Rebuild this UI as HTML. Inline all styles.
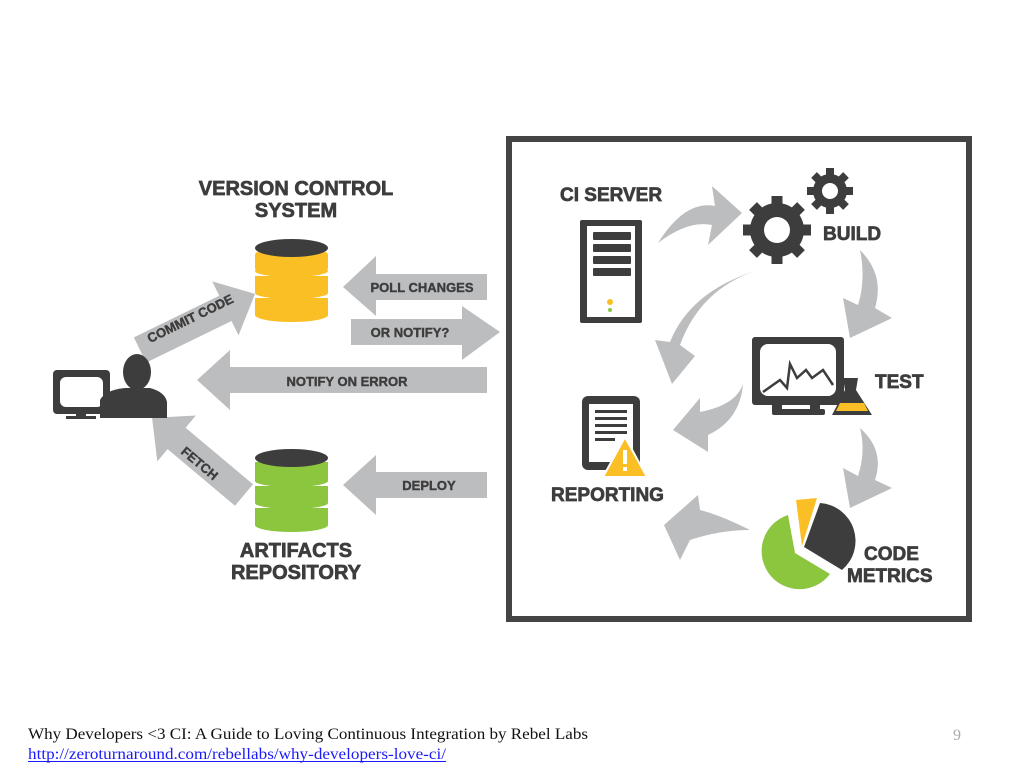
<!DOCTYPE html>
<html><head><meta charset="utf-8"><style>
html,body{margin:0;padding:0;background:#fff;width:1024px;height:768px;overflow:hidden}
svg{display:block}
.t{font-family:"Liberation Sans",sans-serif;font-weight:bold;fill:#3d3d3d;stroke:#3d3d3d;stroke-width:0.7}
.s{font-family:"Liberation Sans",sans-serif;font-weight:bold;fill:#3d3d3d;font-size:13px;stroke:#3d3d3d;stroke-width:0.4}
</style></head><body>
<svg width="1024" height="768" viewBox="0 0 1024 768">
<rect x="509" y="139" width="460" height="480" fill="#fff" stroke="#444" stroke-width="6"/>

<text class="t" x="296" y="195" font-size="20" text-anchor="middle">VERSION CONTROL</text>
<text class="t" x="296" y="217" font-size="20" text-anchor="middle">SYSTEM</text>
<text class="t" x="296" y="557" font-size="20" text-anchor="middle">ARTIFACTS</text>
<text class="t" x="296" y="579" font-size="20" text-anchor="middle">REPOSITORY</text>

<g>
<rect x="255" y="252" width="73" height="19" rx="3" fill="#fbbf26"/>
<ellipse cx="291.5" cy="271" rx="36.5" ry="6" fill="#fbbf26"/>
<rect x="255" y="276" width="73" height="17" fill="#fbbf26"/>
<ellipse cx="291.5" cy="293" rx="36.5" ry="6" fill="#fbbf26"/>
<rect x="255" y="298" width="73" height="17" fill="#fbbf26"/>
<ellipse cx="291.5" cy="315" rx="36.5" ry="7" fill="#fbbf26"/>
<ellipse cx="291.5" cy="248" rx="36.5" ry="9" fill="#3d3d3d"/>
</g>
<g>
<rect x="255" y="462" width="73" height="19" fill="#8cc63f"/>
<ellipse cx="291.5" cy="481" rx="36.5" ry="6" fill="#8cc63f"/>
<rect x="255" y="486" width="73" height="17" fill="#8cc63f"/>
<ellipse cx="291.5" cy="503" rx="36.5" ry="6" fill="#8cc63f"/>
<rect x="255" y="508" width="73" height="17" fill="#8cc63f"/>
<ellipse cx="291.5" cy="525" rx="36.5" ry="7" fill="#8cc63f"/>
<ellipse cx="291.5" cy="458" rx="36.5" ry="9" fill="#3d3d3d"/>
</g>

<g fill="#bcbdbf">
<polygon points="487,274 376,274 376,256 343,287 376,316 376,300 487,300"/>
<polygon points="351,319 462,319 462,306 500,332 462,360 462,345 351,345"/>
<polygon points="487,367 230,367 230,350 197,380 230,410 230,393 487,393"/>
<polygon points="487,472 376,472 376,455 343,485 376,515 376,498 487,498"/>
<g transform="translate(140,350) rotate(-26)">
<polygon points="0,-14 95,-14 95,-30 128,0 95,30 95,14 0,14"/>
</g>
<g transform="translate(244,495) rotate(-140)">
<polygon points="0,-14 88,-14 88,-30 120,0 88,30 88,14 0,14"/>
</g>
</g>
<text class="s" x="422" y="292" text-anchor="middle">POLL CHANGES</text>
<text class="s" x="410" y="337" text-anchor="middle">OR NOTIFY?</text>
<text class="s" x="347" y="386" text-anchor="middle">NOTIFY ON ERROR</text>
<text class="s" x="429" y="490" text-anchor="middle">DEPLOY</text>
<text class="s" transform="translate(190,318) rotate(-26)" text-anchor="middle" x="0" y="5">COMMIT CODE</text>
<text class="s" transform="translate(200,463) rotate(40)" text-anchor="middle" x="0" y="5">FETCH</text>

<g fill="#3d3d3d">
<rect x="53" y="370" width="57" height="44" rx="4"/>
<rect x="60" y="377" width="43" height="30" rx="6" fill="#fff"/>
<rect x="76" y="413" width="10" height="5"/>
<rect x="66" y="416" width="30" height="3"/>
<ellipse cx="137" cy="372" rx="14" ry="18"/>
<path d="M100,418 L100,400 Q105,390 125,388 L150,388 Q165,392 167,402 L167,418 Z"/>
</g>

<text class="t" x="560" y="201" font-size="19">CI SERVER</text>
<g fill="#3d3d3d">
<rect x="580" y="220" width="62" height="103" rx="2"/>
<rect x="587" y="226" width="48" height="91" fill="#fff"/>
<rect x="593" y="232" width="38" height="8" rx="1"/>
<rect x="593" y="244" width="38" height="8" rx="1"/>
<rect x="593" y="256" width="38" height="8" rx="1"/>
<rect x="593" y="268" width="38" height="8" rx="1"/>
</g>
<circle cx="610" cy="302" r="3" fill="#fbbf26"/>
<circle cx="610" cy="310" r="2" fill="#8cc63f"/>

<g fill="#3d3d3d">
<circle cx="777" cy="230" r="27"/>
<g stroke="#3d3d3d" stroke-width="11">
<line x1="777" y1="196" x2="777" y2="264"/><line x1="743" y1="230" x2="811" y2="230"/>
<line x1="753" y1="206" x2="801" y2="254"/><line x1="801" y1="206" x2="753" y2="254"/>
</g>
<circle cx="830" cy="191" r="17"/>
<g stroke="#3d3d3d" stroke-width="8">
<line x1="830" y1="168" x2="830" y2="214"/><line x1="807" y1="191" x2="853" y2="191"/>
<line x1="814" y1="175" x2="846" y2="207"/><line x1="846" y1="175" x2="814" y2="207"/>
</g>
</g>
<circle cx="777" cy="230" r="13" fill="#fff"/>
<circle cx="830" cy="191" r="8" fill="#fff"/>
<text class="t" x="823" y="240" font-size="19">BUILD</text>

<g fill="#3d3d3d">
<rect x="752" y="337" width="92" height="68" rx="3"/>
<rect x="772" y="404" width="10" height="8"/><rect x="810" y="404" width="10" height="8"/>
<rect x="772" y="409" width="53" height="6" rx="2"/>
</g>
<rect x="760" y="344" width="76" height="52" rx="8" fill="#fff"/>
<polyline points="763,392 780,380 787,388 790,364 797,378 806,370 812,378 823,370 833,385" fill="none" stroke="#3d3d3d" stroke-width="2.5"/>
<polygon points="843,378 858,378 856,390 872,415 832,415 845,390" fill="#3d3d3d"/>
<polygon points="840,403 864,403 868,411 836,411" fill="#fbbf26"/>
<text class="t" x="875" y="388" font-size="19">TEST</text>

<rect x="582" y="396" width="58" height="74" rx="6" fill="#3d3d3d"/>
<rect x="589" y="404" width="44" height="58" fill="#fff"/>
<g fill="#3d3d3d"><rect x="595" y="410" width="32" height="3"/><rect x="595" y="417" width="32" height="3"/><rect x="595" y="424" width="32" height="3"/><rect x="595" y="431" width="32" height="3"/><rect x="595" y="438" width="20" height="3"/></g>
<polygon points="625,437 647,477 603,477" fill="#fbbf26" stroke="#fff" stroke-width="2"/>
<rect x="623" y="450" width="4" height="14" fill="#fff"/><rect x="623" y="467" width="4" height="4" fill="#fff"/>
<text class="t" x="551" y="501" font-size="19">REPORTING</text>

<path d="M795,553 L788,515 A38,38 0 1 0 830,574 Z" fill="#8cc63f"/>
<path d="M802,546 L796,500 L817,498 Z" fill="#fbbf26"/>
<path d="M804,547 L820,503 A38,38 0 0 1 842,570 Z" fill="#3d3d3d"/>
<text class="t" x="864" y="560" font-size="19">CODE</text>
<text class="t" x="847" y="582" font-size="19">METRICS</text>

<g fill="#bcbdbf">
<path d="M658,243 Q685,200 715,206 L712,186 L742,213 L708,245 L712,225 Q688,220 658,243 Z"/>
<path d="M860,250 Q885,275 875,308 L892,318 L850,338 L843,298 L858,305 Q866,280 860,250 Z"/>
<path d="M755,271 Q700,290 680,345 L695,356 L672,384 L655,340 L670,342 Q690,292 755,271 Z"/>
<path d="M743,384 Q736,405 700,412 L700,398 L673,430 L708,452 L708,435 Q740,420 743,384 Z"/>
<path d="M860,428 Q885,450 875,480 L892,488 L850,508 L843,468 L858,476 Q866,452 860,428 Z"/>
<path d="M750,530 Q720,515 700,510 L698,495 L664,525 L680,560 L690,540 Q720,530 750,530 Z"/>
</g>

<text x="28" y="739" font-family="Liberation Serif,serif" font-size="16" fill="#111" textLength="560" lengthAdjust="spacingAndGlyphs">Why Developers &lt;3 CI: A Guide to Loving Continuous Integration by Rebel Labs</text>
<text x="28" y="759" font-family="Liberation Serif,serif" font-size="16" fill="#1a1aff" textLength="418" lengthAdjust="spacingAndGlyphs">http://zeroturnaround.com/rebellabs/why-developers-love-ci/</text>
<rect x="28" y="761" width="418" height="1" fill="#1a1aff"/>
<text x="953" y="740" font-family="Liberation Serif,serif" font-size="16" fill="#aaa">9</text>
</svg>
</body></html>
